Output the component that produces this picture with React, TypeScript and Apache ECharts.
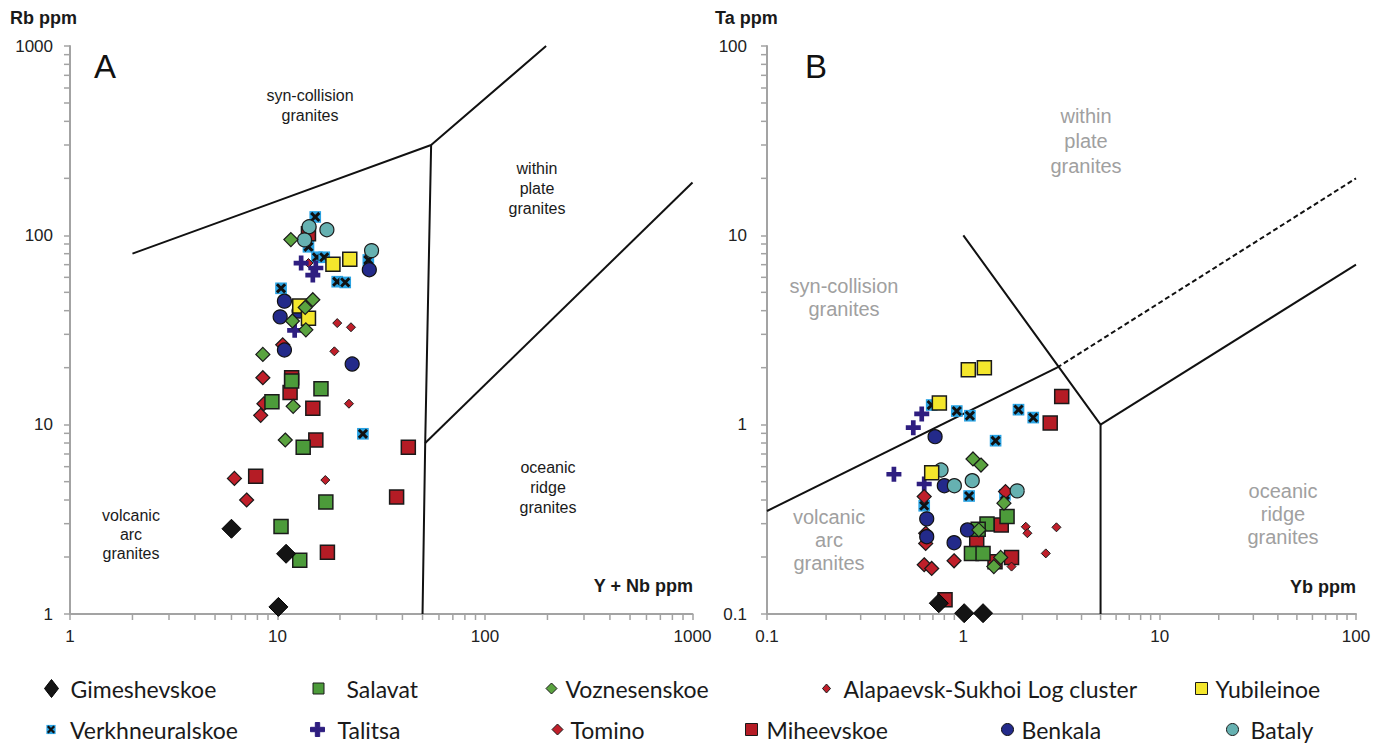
import React, { useEffect, useRef } from "react";
import * as echarts from "echarts";

const FONT = "'Liberation Sans', Arial, Helvetica, sans-serif";
const LEGEND_FONT = "Lato, 'Open Sans', sans-serif";

// ---------- Panel A: (Y + Nb ppm, Rb ppm) ----------
const gimeshevskoeA = [[6.0, 2.82], [11.0, 2.08], [10.1, 1.09]];
const salavatA = [[11.7, 17.0], [16.2, 15.5], [9.4, 13.2], [13.3, 7.6], [17.1, 3.9], [10.4, 2.9], [12.8, 1.92]];
const voznesenskoeA = [[11.6, 95], [14.8, 45.7], [13.6, 41.6], [11.8, 35.3], [13.7, 31.7], [8.5, 23.5], [11.9, 12.5], [10.9, 8.3]];
const tominoA = [[8.5, 17.7], [8.6, 12.9], [8.3, 11.2], [10.6, 26.4], [6.2, 5.2], [7.1, 4.0]];
const alapaevskA = [[19.4, 34.4], [22.6, 32.7], [18.8, 24.4], [22.1, 12.9], [17.0, 5.1], [14.1, 71.4]];
const yubileinoeA = [[18.5, 70.3], [22.3, 74.7], [12.8, 42.4], [14.1, 36.5]];
const verkhneuralskoeA = [[15.2, 125], [14.1, 87], [15.5, 76.6], [16.8, 76.6], [27.4, 74.1], [19.4, 56.9], [21.2, 56.4], [10.4, 52.5], [25.8, 8.95]];
const talitsaA = [[13.0, 71.4], [15.3, 67.2], [14.8, 61.7], [12.1, 31.5]];
const miheevskoeA = [[14.1, 102], [11.7, 17.7], [11.5, 14.8], [14.8, 12.2], [15.3, 8.3], [42.7, 7.6], [7.85, 5.34], [37.5, 4.15], [17.4, 2.12]];
const benkalaA = [[27.7, 65.8], [10.8, 44.9], [12.7, 39.8], [10.3, 37.1], [10.8, 24.8], [22.9, 20.9]];
const batalyA = [[14.2, 111], [17.3, 107], [13.5, 94.6], [28.4, 83]];

// ---------- Panel B: (Yb ppm, Ta ppm) ----------
const gimeshevskoeB = [[0.75, 0.114], [1.01, 0.101], [1.26, 0.101]];
const salavatB = [[1.32, 0.299], [1.67, 0.327], [1.10, 0.209], [1.26, 0.209], [1.19, 0.280]];
const voznesenskoeB = [[1.12, 0.659], [1.23, 0.612], [1.61, 0.385], [1.20, 0.278], [1.55, 0.199], [1.43, 0.178]];
const tominoB = [[0.632, 0.417], [0.643, 0.267], [0.643, 0.236], [0.632, 0.182], [0.69, 0.174], [0.897, 0.191], [1.64, 0.443]];
const alapaevskB = [[2.08, 0.289], [2.12, 0.267], [2.98, 0.287], [2.63, 0.209], [1.76, 0.178]];
const yubileinoeB = [[1.06, 1.95], [1.28, 2.0], [0.755, 1.30], [0.69, 0.558]];
const verkhneuralskoeB = [[0.69, 1.27], [0.926, 1.18], [1.08, 1.115], [1.91, 1.20], [2.27, 1.09], [1.46, 0.823], [1.07, 0.42], [1.63, 0.426], [0.632, 0.373]];
const talitsaB = [[0.614, 1.14], [0.556, 0.964], [0.443, 0.547], [0.632, 0.486]];
const miheevskoeB = [[3.17, 1.41], [2.77, 1.02], [1.56, 0.295], [1.17, 0.241], [1.76, 0.199], [1.45, 0.189], [0.807, 0.119]];
const benkalaB = [[0.718, 0.864], [0.80, 0.476], [0.651, 0.318], [0.651, 0.256], [1.05, 0.278], [0.897, 0.238]];
const batalyB = [[0.77, 0.576], [0.90, 0.476], [1.11, 0.506], [1.88, 0.447]];

// ---------- Discrimination boundaries ----------
const boundaryA1 = [[2, 80], [55, 300], [197, 1000]];
const boundaryA2 = [[55, 300], [51.5, 8], [50, 1]];
const boundaryA3 = [[51.5, 8], [1000, 190]];
const boundaryB1 = [[0.1, 0.35], [3, 2]];
const boundaryB1dashed = [[3, 2], [100, 20]];
const boundaryB2 = [[1, 10], [5, 1], [5, 0.1]];
const boundaryB3 = [[5, 1], [100, 7]];

// ---------- Axis minor tick values ----------
const minorTicksA = [2, 3, 4, 5, 6, 7, 8, 9, 20, 30, 40, 50, 60, 70, 80, 90, 200, 300, 400, 500, 600, 700, 800, 900];
const minorTicksB = [0.2, 0.3, 0.4, 0.5, 0.6, 0.7, 0.8, 0.9, 2, 3, 4, 5, 6, 7, 8, 9, 20, 30, 40, 50, 60, 70, 80, 90];

const verkhSvg =
  "<svg xmlns='http://www.w3.org/2000/svg' width='24' height='24' viewBox='0 0 24 24'>" +
  "<rect x='2' y='2' width='20' height='20' fill='#2aa3e3'/>" +
  "<path d='M5 5L19 19M19 5L5 19' stroke='#111111' stroke-width='5'/></svg>";
const VERKH_SYMBOL = "image://data:image/svg+xml;charset=utf-8," + encodeURIComponent(verkhSvg);
const PLUS = "path://M5.5,0H10.5V5.5H16V10.5H10.5V16H5.5V10.5H0V5.5H5.5Z";

type Sty = { symbol: string; size: number | number[]; color: string; border: string; bw: number };
const styles: Record<string, Sty> = {
  Gimeshevskoe: { symbol: "diamond", size: 19, color: "#141414", border: "#000000", bw: 1 },
  Salavat: { symbol: "rect", size: 14, color: "#4c9b3a", border: "#1a1a1a", bw: 1.5 },
  Voznesenskoe: { symbol: "diamond", size: 14, color: "#5aa33f", border: "#1a1a1a", bw: 1.2 },
  "Alapaevsk-Sukhoi Log cluster": { symbol: "diamond", size: 9, color: "#c01f2a", border: "#1a1a1a", bw: 1 },
  Yubileinoe: { symbol: "rect", size: 14, color: "#f4e62c", border: "#1a1a1a", bw: 1.5 },
  Verkhneuralskoe: { symbol: VERKH_SYMBOL, size: 14, color: "#2aa3e3", border: "#2aa3e3", bw: 0 },
  Talitsa: { symbol: PLUS, size: 15, color: "#2e1e80", border: "#2e1e80", bw: 0 },
  Tomino: { symbol: "diamond", size: 14, color: "#c01f2a", border: "#1a1a1a", bw: 1.2 },
  Miheevskoe: { symbol: "rect", size: 14, color: "#b51c25", border: "#1a1a1a", bw: 1.5 },
  Benkala: { symbol: "circle", size: 14, color: "#232a8a", border: "#111111", bw: 1.2 },
  Bataly: { symbol: "circle", size: 14, color: "#66b1b1", border: "#1a1a1a", bw: 1.2 },
};

// drawing order, bottom to top
const order: [string, number[][], number[][]][] = [
  ["Verkhneuralskoe", verkhneuralskoeA, verkhneuralskoeB],
  ["Miheevskoe", miheevskoeA, miheevskoeB],
  ["Alapaevsk-Sukhoi Log cluster", alapaevskA, alapaevskB],
  ["Talitsa", talitsaA, talitsaB],
  ["Tomino", tominoA, tominoB],
  ["Salavat", salavatA, salavatB],
  ["Benkala", benkalaA, benkalaB],
  ["Bataly", batalyA, batalyB],
  ["Yubileinoe", yubileinoeA, yubileinoeB],
  ["Voznesenskoe", voznesenskoeA, voznesenskoeB],
  ["Gimeshevskoe", gimeshevskoeA, gimeshevskoeB],
];

// legend layout: icon centre x, row, icon w/h, text start x
const legendLayout = [
  { name: "Gimeshevskoe", cx: 51, row: 0, iw: 14, ih: 18, tx: 70 },
  { name: "Salavat", cx: 318, row: 0, iw: 11, ih: 11, tx: 346 },
  { name: "Voznesenskoe", cx: 551, row: 0, iw: 11, ih: 11, tx: 565 },
  { name: "Alapaevsk-Sukhoi Log cluster", cx: 826, row: 0, iw: 8, ih: 9, tx: 843 },
  { name: "Yubileinoe", cx: 1201, row: 0, iw: 12, ih: 12, tx: 1215 },
  { name: "Verkhneuralskoe", cx: 51, row: 1, iw: 11, ih: 11, tx: 70 },
  { name: "Talitsa", cx: 317, row: 1, iw: 14, ih: 14, tx: 337 },
  { name: "Tomino", cx: 557, row: 1, iw: 11, ih: 11, tx: 570 },
  { name: "Miheevskoe", cx: 751, row: 1, iw: 12, ih: 12, tx: 766 },
  { name: "Benkala", cx: 1007, row: 1, iw: 12, ih: 12, tx: 1021 },
  { name: "Bataly", cx: 1232, row: 1, iw: 12, ih: 12, tx: 1250 },
];
const rowCenters = [688, 729];
const LEGEND_LH = 22;

const fmt = (v: number) => String(+Number(v).toPrecision(6));

function logAxis(gridIndex: number, min: number, max: number, margin: number) {
  return {
    type: "log",
    logBase: 10,
    gridIndex,
    min,
    max,
    axisLine: { show: true, lineStyle: { color: "#a3a3a3", width: 2 } },
    axisTick: { show: true, length: 6, lineStyle: { color: "#a3a3a3", width: 1.5 } },
    splitLine: { show: false },
    axisLabel: { color: "#222222", fontSize: 17, fontFamily: FONT, margin, formatter: fmt },
  };
}

function minorSeries(axisIndex: number, dim: "x" | "y", values: number[], otherMin: number) {
  return {
    type: "custom",
    xAxisIndex: axisIndex,
    yAxisIndex: axisIndex,
    silent: true,
    clip: false,
    z: 1,
    data: values.map((v) => (dim === "x" ? [v, otherMin] : [otherMin, v])),
    renderItem: (_p: any, api: any) => {
      const pt = api.coord([api.value(0), api.value(1)]);
      return {
        type: "line",
        shape:
          dim === "x"
            ? { x1: pt[0], y1: pt[1], x2: pt[0], y2: pt[1] + 6 }
            : { x1: pt[0] - 6, y1: pt[1], x2: pt[0], y2: pt[1] },
        style: { stroke: "#a3a3a3", lineWidth: 1.5 },
      };
    },
  };
}

function boundary(axisIndex: number, data: number[][], dashed = false) {
  return {
    type: "line",
    xAxisIndex: axisIndex,
    yAxisIndex: axisIndex,
    data,
    symbol: "none",
    silent: true,
    z: 1,
    lineStyle: { color: "#111111", width: 2, type: dashed ? [5, 3] : "solid" },
  };
}

function label(text: string, x: number, y: number, size: number, color: string, lh: number, weight = "normal", align = "center") {
  return {
    type: "text",
    x,
    y,
    silent: true,
    style: {
      text,
      fill: color,
      fontSize: size,
      fontFamily: FONT,
      fontWeight: weight,
      lineHeight: lh,
      align,
      verticalAlign: "middle",
      textAlign: align,
      textVerticalAlign: "middle",
    },
  };
}

export default function App() {
  const ref = useRef<HTMLDivElement>(null);
  useEffect(() => {
    if (!ref.current) return;
    const chart = echarts.init(ref.current, undefined, { renderer: "svg" });

    const scatter: any[] = [];
    order.forEach(([name, a, b]) => {
      const s = styles[name];
      [a, b].forEach((data, i) => {
        scatter.push({
          type: "scatter",
          name,
          xAxisIndex: i,
          yAxisIndex: i,
          data,
          symbol: s.symbol,
          symbolSize: s.size,
          itemStyle: { color: s.color, borderColor: s.border, borderWidth: s.bw, opacity: 1 },
          emphasis: { disabled: true },
          z: 3,
        });
      });
    });

    const legends = legendLayout.map((l) => {
      const left = l.cx - l.iw / 2;
      const pad = l.tx - (left + l.iw + 5);
      return {
        data: [l.name],
        left,
        top: rowCenters[l.row] - LEGEND_LH / 2,
        padding: 0,
        itemWidth: l.iw,
        itemHeight: l.ih,
        selectedMode: false,
        itemStyle: { borderWidth: 1 },
        textStyle: {
          fontFamily: LEGEND_FONT,
          fontSize: 23,
          color: "#1a1a1a",
          lineHeight: LEGEND_LH,
          padding: [0, 0, 0, pad],
        },
      };
    });

    chart.setOption({
      animation: false,
      backgroundColor: "#ffffff",
      grid: [
        { left: 70, right: 691.5, top: 46, bottom: 131 },
        { left: 767, right: 28, top: 46, bottom: 131 },
      ],
      xAxis: [logAxis(0, 1, 1000, 14), logAxis(1, 0.1, 100, 14)],
      yAxis: [logAxis(0, 1, 1000, 17), logAxis(1, 0.1, 100, 20)],
      legend: legends,
      series: [
        minorSeries(0, "x", minorTicksA, 1),
        minorSeries(0, "y", minorTicksA, 1),
        minorSeries(1, "x", minorTicksB, 0.1),
        minorSeries(1, "y", minorTicksB, 0.1),
        boundary(0, boundaryA1),
        boundary(0, boundaryA2),
        boundary(0, boundaryA3),
        boundary(1, boundaryB1),
        boundary(1, boundaryB1dashed, true),
        boundary(1, boundaryB2),
        boundary(1, boundaryB3),
        ...scatter,
      ],
      graphic: [
        label("Rb ppm", 10, 18, 18, "#1a1a1a", 20, "bold", "left"),
        label("Ta ppm", 715, 18, 18, "#1a1a1a", 20, "bold", "left"),
        label("Y + Nb ppm", 693, 586, 18, "#1a1a1a", 20, "bold", "right"),
        label("Yb ppm", 1356, 587, 18, "#1a1a1a", 20, "bold", "right"),
        label("A", 105, 66, 33, "#111111", 36),
        label("B", 816, 66, 33, "#111111", 36),
        label("syn-collision\ngranites", 310, 105, 16, "#1a1a1a", 20),
        label("within\nplate\ngranites", 537, 188, 16, "#1a1a1a", 20),
        label("oceanic\nridge\ngranites", 548, 487, 16, "#1a1a1a", 20),
        label("volcanic\narc\ngranites", 131, 534, 16, "#1a1a1a", 19),
        label("within\nplate\ngranites", 1086, 141, 20, "#a0a0a0", 25),
        label("syn-collision\ngranites", 844, 297, 20, "#a0a0a0", 23),
        label("volcanic\narc\ngranites", 829, 540, 20, "#a0a0a0", 23),
        label("oceanic\nridge\ngranites", 1283, 514, 20, "#a0a0a0", 23),
      ],
    });
    return () => chart.dispose();
  }, []);
  return <div ref={ref} style={{ position: "fixed", left: 0, top: 0, width: 1384, height: 745, background: "#fff" }} />;
}
